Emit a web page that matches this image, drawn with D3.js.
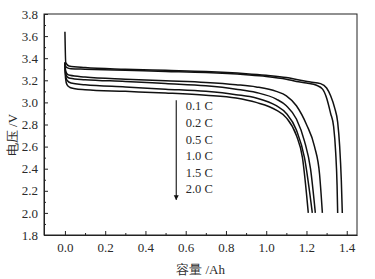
<!DOCTYPE html>
<html><head><meta charset="utf-8">
<script src="https://cdn.jsdelivr.net/npm/d3@7"></script>
<style>
html,body{margin:0;padding:0;background:#fff;}
svg{display:block;}
text{font-family:"Liberation Serif","Times New Roman",serif;fill:#2a2a2a;}
</style></head>
<body><svg id="c" width="375" height="279"></svg>
<script>
const rates = ["0.1 C","0.2 C","0.5 C","1.0 C","1.5 C","2.0 C"];
const cap01 = [0,0.004,0.02,0.1,0.3,0.5,0.7,0.9,1.0,1.1,1.17,1.22,1.27,1.30,1.32,1.34,1.355,1.365,1.373,1.378];
const volt01 = [3.64,3.36,3.33,3.315,3.30,3.29,3.28,3.26,3.245,3.225,3.20,3.185,3.17,3.13,3.06,2.95,2.82,2.6,2.3,2.0];
const cap02 = [0,0.003,0.01,0.03,0.1,0.3,0.5,0.7,0.9,1.0,1.1,1.15,1.2,1.25,1.28,1.30,1.32,1.335,1.345,1.352,1.355];
const volt02 = [3.36,3.33,3.315,3.305,3.30,3.29,3.28,3.27,3.25,3.235,3.21,3.19,3.175,3.155,3.12,3.04,2.90,2.78,2.55,2.25,2.0];
const cap05 = [0,0.003,0.01,0.025,0.1,0.3,0.5,0.7,0.85,0.95,1.05,1.1,1.15,1.2,1.24,1.265,1.279];
const volt05 = [3.36,3.29,3.26,3.245,3.23,3.21,3.195,3.18,3.16,3.14,3.10,3.06,2.97,2.80,2.6,2.35,2.0];
const cap10 = [0,0.003,0.01,0.025,0.1,0.3,0.5,0.7,0.85,0.95,1.05,1.1,1.15,1.19,1.22,1.244];
const volt10 = [3.36,3.27,3.235,3.218,3.205,3.19,3.17,3.15,3.12,3.09,3.03,2.97,2.85,2.65,2.4,2.0];
const cap15 = [0,0.003,0.01,0.03,0.1,0.3,0.5,0.7,0.85,0.95,1.05,1.1,1.15,1.19,1.229];
const volt15 = [3.36,3.25,3.2,3.175,3.16,3.14,3.12,3.10,3.07,3.04,2.97,2.90,2.75,2.5,2.0];
const cap20 = [0,0.003,0.01,0.025,0.05,0.1,0.3,0.5,0.7,0.85,0.95,1.05,1.1,1.15,1.18,1.209];
const volt20 = [3.36,3.22,3.16,3.135,3.124,3.115,3.10,3.085,3.065,3.04,3.00,2.93,2.86,2.70,2.5,2.0];
const xTicks = [0.0,0.2,0.4,0.6,0.8,1.0,1.2,1.4];
const yTicks = [1.8,2.0,2.2,2.4,2.6,2.8,3.0,3.2,3.4,3.6,3.8];

const caps = [cap01,cap02,cap05,cap10,cap15,cap20];
const volts = [volt01,volt02,volt05,volt10,volt15,volt20];

const W=375,H=279,m={l:44,r:18,t:14,b:44};
const svg=d3.select("#c");
const x=d3.scaleLinear().domain([-0.104,1.451]).range([m.l,W-m.r]);
const y=d3.scaleLinear().domain([1.8,3.8]).range([H-m.b,m.t]);

// frame
svg.append("rect").attr("x",m.l).attr("y",m.t).attr("width",W-m.l-m.r).attr("height",H-m.t-m.b)
  .attr("fill","none").attr("stroke","#222").attr("stroke-width",1);

// axes
const xMinor=d3.range(0.1,1.4,0.2);
const yMinor=d3.range(1.9,3.8,0.2);
svg.append("g").attr("transform",`translate(0,${H-m.b})`)
  .call(d3.axisBottom(x).tickValues(xTicks).tickFormat(d3.format(".1f")).tickSizeInner(-4).tickSizeOuter(0).tickPadding(8));
svg.append("g").attr("transform",`translate(0,${H-m.b})`)
  .call(d3.axisBottom(x).tickValues(xMinor).tickFormat("").tickSizeInner(-2).tickSizeOuter(0))
  .call(g=>g.select(".domain").remove());
svg.append("g").attr("transform",`translate(${m.l},0)`)
  .call(d3.axisLeft(y).tickValues(yTicks).tickFormat(d3.format(".1f")).tickSizeInner(-4).tickSizeOuter(0).tickPadding(6));
svg.append("g").attr("transform",`translate(${m.l},0)`)
  .call(d3.axisLeft(y).tickValues(yMinor).tickFormat("").tickSizeInner(-2).tickSizeOuter(0))
  .call(g=>g.select(".domain").remove());
svg.selectAll(".tick line").attr("stroke","#222");
svg.selectAll(".domain").attr("stroke","#222");
svg.selectAll(".tick text").attr("font-size",13).attr("font-family","Liberation Serif, serif").attr("fill","#2a2a2a");

// curves
const line=d3.line().x(d=>x(d[0])).y(d=>y(d[1])).curve(d3.curveMonotoneX);
caps.forEach((c,i)=>{
  const pts=c.map((v,j)=>[v,volts[i][j]]);
  svg.append("path").attr("d",line(pts)).attr("fill","none").attr("stroke","#111").attr("stroke-width",1.5);
});

// annotation arrow + labels
const ax=x(0.553);
const defs=svg.append("defs");
defs.append("marker").attr("id","ah").attr("viewBox","0 0 10 10").attr("refX",9).attr("refY",5)
  .attr("markerWidth",5).attr("markerHeight",7).attr("orient","auto").attr("markerUnits","userSpaceOnUse")
  .append("path").attr("d","M0,0L10,5L0,10Z").attr("fill","#111");
svg.append("line").attr("x1",ax).attr("x2",ax).attr("y1",y(3.02)).attr("y2",y(2.12))
  .attr("stroke","#111").attr("stroke-width",1.1).attr("marker-end","url(#ah)");
rates.forEach((r,i)=>{
  svg.append("text").attr("x",x(0.6)).attr("y",y(2.967)+i*16.6).attr("dy","0.35em")
    .attr("font-size",12.5).text(r);
});

// axis titles
svg.append("text").attr("x",(m.l+W-m.r)/2).attr("y",269).attr("dy","0.35em").attr("text-anchor","middle")
  .attr("font-size",13).attr("font-family","Noto Sans CJK SC, sans-serif").attr("fill","#333").text("容量 /Ah");
svg.append("text").attr("transform","translate(12,135) rotate(-90)").attr("dy","0.35em").attr("text-anchor","middle")
  .attr("font-size",13).attr("font-family","Noto Sans CJK SC, sans-serif").attr("fill","#333").text("电压 /V");
</script></body></html>
